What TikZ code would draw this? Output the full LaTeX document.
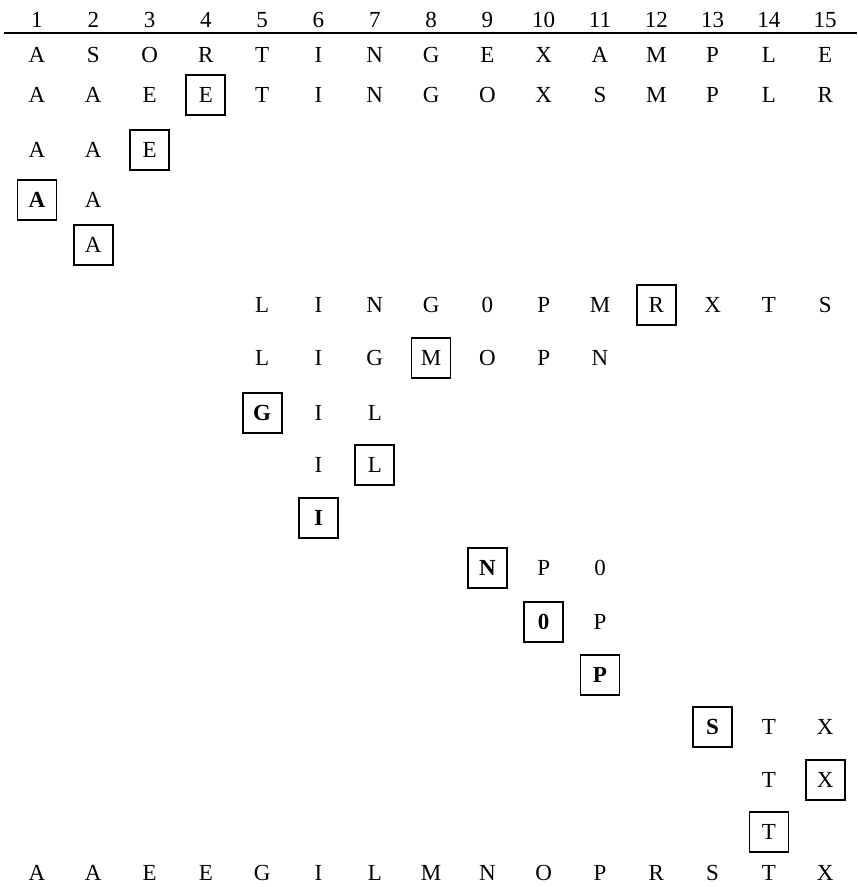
\documentclass[tikz,border=0pt]{standalone}
\usepackage{fontspec}
\setmainfont{Liberation Serif}
\usepackage{tikz}
\usetikzlibrary{positioning}
\tikzset{
  key/.style={
    inner sep=0pt, anchor=center,
    font=\fontsize{11.5}{12}\selectfont,
    text height=7.6pt, text depth=0pt
  },
  part/.style={
    key, draw, line width=0.9pt,
    minimum width=19.5pt, minimum height=20pt
  },
  partbold/.style={part, font=\fontsize{11.5}{12}\selectfont\bfseries},
  rule/.style={line width=0.9pt},
}

\begin{document}
\begin{tikzpicture}[x=28.15pt, y=-0.5pt]

\useasboundingbox (0.343,0) rectangle (15.565,887);

% Column numbers and rule
\foreach \c in {1,...,15}
  \node[key] (h\c) at (\c,20) {\c};
\coordinate (ruleL) at (0.414,33);
\coordinate (ruleR) at (15.565,33);
\draw[rule] (ruleL) -- (ruleR);

% Input
\foreach \c/\t in {1/A,2/S,3/O,4/R,5/T,6/I,7/N,8/G,9/E,10/X,11/A,12/M,13/P,14/L,15/E}
  \node[key] (r1c\c) at (\c,55) {\t};

% First partition
\foreach \c/\t in {1/A,2/A,3/E,5/T,6/I,7/N,8/G,9/O,10/X,11/S,12/M,13/P,14/L,15/R}
  \node[key] (r2c\c) at (\c,95) {\t};
\node[part] (r2c4) at (4,95) {E};

% Left subfile
\node[key] (r3c1) at (1,150) {A};
\node[key] (r3c2) at (2,150) {A};
\node[part] (r3c3) at (3,150) {E};

\node[partbold] (r4c1) at (1,200) {A};
\node[key] (r4c2) at (2,200) {A};

\node[part] (r5c2) at (2,245) {A};

% Right subfile
\foreach \c/\t in {5/L,6/I,7/N,8/G,9/0,10/P,11/M,13/X,14/T,15/S}
  \node[key] (r6c\c) at (\c,305) {\t};
\node[part] (r6c12) at (12,305) {R};

\foreach \c/\t in {5/L,6/I,7/G,9/O,10/P,11/N}
  \node[key] (r7c\c) at (\c,358) {\t};
\node[part] (r7c8) at (8,358) {M};

\node[partbold] (r8c5) at (5,413) {G};
\node[key] (r8c6) at (6,413) {I};
\node[key] (r8c7) at (7,413) {L};

\node[key] (r9c6) at (6,465) {I};
\node[part] (r9c7) at (7,465) {L};

\node[partbold] (r10c6) at (6,518) {I};

\node[partbold] (r11c9) at (9,568) {N};
\node[key] (r11c10) at (10,568) {P};
\node[key] (r11c11) at (11,568) {0};

\node[partbold] (r12c10) at (10,622) {0};
\node[key] (r12c11) at (11,622) {P};

\node[partbold] (r13c11) at (11,675) {P};

\node[partbold] (r14c13) at (13,727) {S};
\node[key] (r14c14) at (14,727) {T};
\node[key] (r14c15) at (15,727) {X};

\node[key] (r15c14) at (14,780) {T};
\node[part] (r15c15) at (15,780) {X};

\node[part] (r16c14) at (14,832) {T};

% Sorted output
\foreach \c/\t in {1/A,2/A,3/E,4/E,5/G,6/I,7/L,8/M,9/N,10/O,11/P,12/R,13/S,14/T,15/X}
  \node[key] (r17c\c) at (\c,873) {\t};

\end{tikzpicture}
\end{document}
